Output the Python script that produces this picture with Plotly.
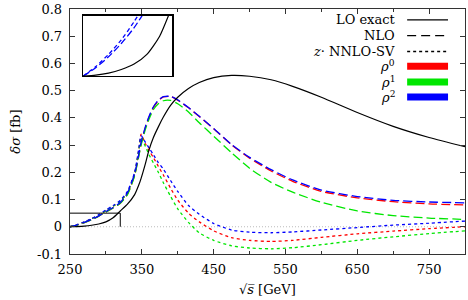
import plotly.graph_objects as go

# ---------------- data ----------------
E = [250, 260, 270, 280, 290, 300, 310, 320, 330, 340, 346, 349, 355, 360, 366, 373,
     380, 390, 400, 415, 430, 450, 475, 500, 530, 560, 600, 650, 700, 750, 800]

lo_exact = [0.0, 0.0008, 0.0025, 0.0055, 0.010, 0.018, 0.033, 0.058, 0.083, 0.118, 0.155, 0.178,
            0.232, 0.282, 0.327, 0.367, 0.403, 0.446, 0.476, 0.508, 0.530, 0.548, 0.556, 0.553,
            0.540, 0.516, 0.476, 0.420, 0.369, 0.328, 0.294]

nlo_rho0 = [0.0, 0.006, 0.015, 0.026, 0.039, 0.054, 0.069, 0.086, 0.120, 0.190, 0.265, 0.305,
            0.365, 0.402, 0.438, 0.463, 0.477, 0.479, 0.465, 0.437, 0.405, 0.360, 0.301, 0.252,
            0.205, 0.167, 0.130, 0.106, 0.092, 0.084, 0.080]
nlo_rho1 = [0.0, 0.006, 0.015, 0.026, 0.039, 0.054, 0.069, 0.086, 0.118, 0.188, 0.262, 0.300,
            0.358, 0.395, 0.430, 0.452, 0.463, 0.464, 0.452, 0.422, 0.382, 0.333, 0.272, 0.215,
            0.163, 0.127, 0.090, 0.058, 0.041, 0.032, 0.027]
nlo_rho2 = [0.0, 0.007, 0.016, 0.027, 0.040, 0.056, 0.071, 0.089, 0.125, 0.195, 0.270, 0.310,
            0.368, 0.405, 0.440, 0.465, 0.478, 0.479, 0.466, 0.438, 0.406, 0.361, 0.302, 0.255,
            0.210, 0.172, 0.135, 0.111, 0.097, 0.091, 0.088]

sv_rho0 = [0.0, 0.007, 0.017, 0.029, 0.043, 0.059, 0.075, 0.094, 0.126, 0.195, 0.285, 0.340,
           0.305, 0.280, 0.255, 0.222, 0.190, 0.142, 0.098, 0.050, 0.018, -0.015, -0.040, -0.050,
           -0.054, -0.050, -0.039, -0.026, -0.016, -0.007, 0.0]
sv_rho1 = [0.0, 0.007, 0.017, 0.029, 0.043, 0.059, 0.075, 0.094, 0.126, 0.195, 0.285, 0.328,
           0.295, 0.265, 0.235, 0.200, 0.162, 0.112, 0.066, 0.016, -0.022, -0.050, -0.070, -0.078,
           -0.081, -0.077, -0.066, -0.050, -0.037, -0.025, -0.015]
sv_rho2 = [0.0, 0.008, 0.018, 0.030, 0.045, 0.062, 0.078, 0.097, 0.130, 0.200, 0.290, 0.335,
           0.310, 0.290, 0.265, 0.236, 0.212, 0.170, 0.130, 0.078, 0.046, 0.012, -0.012, -0.020,
           -0.022, -0.019, -0.012, -0.003, 0.006, 0.013, 0.021]

x_ticks = [250, 350, 450, 550, 650, 750]
x_ticklabels = ["250", "350", "450", "550", "650", "750"]
y_ticks = [-0.1, 0, 0.1, 0.2, 0.3, 0.4, 0.5, 0.6, 0.7, 0.8]
y_ticklabels = ["-0.1", "0", "0.1", "0.2", "0.3", "0.4", "0.5", "0.6", "0.7", "0.8"]

x_range = [250, 800]
y_range = [-0.1001, 0.8001]
inset_x = [250, 320]
inset_y = [0, 0.05]

legend_labels = ["LO exact", "NLO", "<i>z</i>· NNLO-SV",
                 "<i>ρ</i><sup>0</sup>", "<i>ρ</i><sup>1</sup>", "<i>ρ</i><sup>2</sup>"]

# ---------------- styling ----------------
RED, GREEN, BLUE = "#ff0000", "#00e600", "#0000ff"
DASH = "9px,4px"
DOT = "3px,3px"
FONT = "DejaVu Serif"
FS = 13

fig = go.Figure()

def add(y, color, dash, width=1.3, xa="x", ya="y"):
    fig.add_trace(go.Scatter(x=E, y=y, mode="lines", xaxis=xa, yaxis=ya,
                             line=dict(color=color, dash=dash, width=width, shape="spline", smoothing=0.6),
                             showlegend=False, hoverinfo="skip"))

# zero line
fig.add_trace(go.Scatter(x=x_range, y=[0, 0], mode="lines", showlegend=False, hoverinfo="skip",
                         line=dict(color="#aaaaaa", width=0.8, dash="1px,2px")))

for y, c in [(sv_rho0, RED), (sv_rho1, GREEN), (sv_rho2, BLUE)]:
    add(y, c, DOT)
for y, c in [(nlo_rho0, RED), (nlo_rho1, GREEN), (nlo_rho2, BLUE)]:
    add(y, c, DASH)
add(lo_exact, "black", "solid", 1.2)

# inset curves
add(sv_rho2, BLUE, "4px,3px", 1.3, "x2", "y2")
add(nlo_rho2, BLUE, "7px,3px", 1.3, "x2", "y2")
add(lo_exact, "black", "solid", 1.2, "x2", "y2")

# rectangle marking the zoomed region
fig.add_shape(type="line", x0=inset_x[0], x1=inset_x[1], y0=inset_y[1], y1=inset_y[1],
              xref="x", yref="y", line=dict(color="black", width=1))
fig.add_shape(type="line", x0=inset_x[1], x1=inset_x[1], y0=inset_y[0], y1=inset_y[1],
              xref="x", yref="y", line=dict(color="black", width=1))

# ---------------- axes ----------------
W, H = 468, 300
ml, mr, mt, mb = 70, 2, 6, 46
pw, ph = W - ml - mr, H - mt - mb

def px2paper(px, py):
    return (px - ml) / pw, (H - mb - py) / ph

axis_common = dict(showline=True, linecolor="#333333", linewidth=1.3, mirror="allticks",
                   ticks="inside", ticklen=5, tickcolor="#333333", showgrid=False, zeroline=False,
                   ticklabeloverflow="allow",
                   tickfont=dict(family=FONT, size=FS, color="black"))

fig.update_layout(
    width=W, height=H, margin=dict(l=ml, r=mr, t=mt, b=mb),
    paper_bgcolor="white", plot_bgcolor="white",
    xaxis=dict(range=x_range, tickvals=x_ticks, ticktext=x_ticklabels,
               minor=dict(tickvals=[300, 400, 500, 600, 700, 800], ticks="inside", ticklen=3,
                          tickcolor="#333333"),
               ticklabelstandoff=3, **axis_common),
    yaxis=dict(range=y_range, tickvals=y_ticks, ticktext=y_ticklabels, ticklabelstandoff=4,
               **axis_common),
)

ix0, iy1 = px2paper(83, 12.7)
ix1, iy0 = px2paper(172.7, 74)
fig.update_layout(
    xaxis2=dict(domain=[ix0, ix1], anchor="y2", range=inset_x, showline=True, linecolor="black",
                linewidth=1.2, mirror=True, showticklabels=False, ticks="", showgrid=False,
                zeroline=False),
    yaxis2=dict(domain=[iy0, iy1], anchor="x2", range=inset_y, showline=True, linecolor="black",
                linewidth=1.2, mirror=True, showticklabels=False, ticks="", showgrid=False,
                zeroline=False),
)

# axis titles
tx, ty = px2paper(268, 290)
fig.add_annotation(x=tx, y=ty, xref="paper", yref="paper", text="√<i>s̅</i> [GeV]", showarrow=False,
                   font=dict(family=FONT, size=FS, color="black"), xanchor="center", yanchor="middle")
tx, ty = px2paper(15, 130)
fig.add_annotation(x=tx, y=ty, xref="paper", yref="paper", text="<i>δσ</i> [fb]", showarrow=False,
                   textangle=-90, font=dict(family=FONT, size=FS, color="black"),
                   xanchor="center", yanchor="middle")

# ---------------- legend (text right, sample at right) ----------------
rows_py = [17, 33, 49, 64, 80, 95]
samples = [("black", "solid", 1.3), ("black", "9px,5px", 1.3), ("black", "3px,3px", 1.3),
           (RED, "solid", 7), (GREEN, "solid", 7), (BLUE, "solid", 7)]
for lab, py, (c, d, w) in zip(legend_labels, rows_py, samples):
    tx, ty = px2paper(398, py)
    fig.add_annotation(x=tx, y=ty, xref="paper", yref="paper", text=lab, showarrow=False,
                       font=dict(family=FONT, size=FS, color="black"), xanchor="right", yanchor="middle")
    sx0, sy = px2paper(408, py)
    sx1, _ = px2paper(449, py)
    fig.add_shape(type="line", x0=sx0, x1=sx1, y0=sy, y1=sy, xref="paper", yref="paper",
                  line=dict(color=c, dash=d, width=w))

fig.write_html("out.html", config={"displayModeBar": False, "staticPlot": True},
               post_script="document.body.style.margin='0';")
